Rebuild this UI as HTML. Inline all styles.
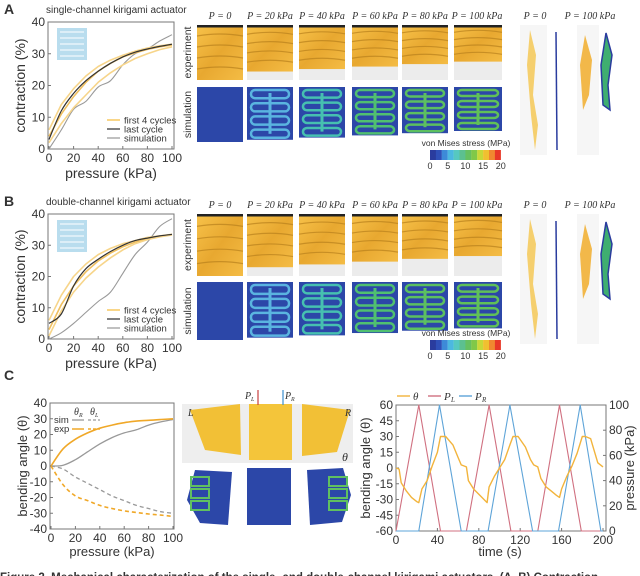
<!DOCTYPE html>
<html><head><meta charset="utf-8"><style>
body{margin:0;background:#fff;width:640px;height:576px;overflow:hidden;font-family:"Liberation Sans",sans-serif}
svg{display:block}
text{font-family:"Liberation Sans",sans-serif;fill:#333}
.ser{font-family:"Liberation Serif",serif;font-style:italic}
</style></head><body>
<svg id="fig" width="640" height="576" viewBox="0 0 640 576">
<defs>
<linearGradient id="yel" x1="0" y1="0" x2="1" y2="1"><stop offset="0" stop-color="#f7c24a"/><stop offset="0.5" stop-color="#e8a830"/><stop offset="1" stop-color="#f4bc45"/></linearGradient>
</defs>
<g id="static"></g>
<g id="charts"></g>
</svg>
<script>
// ---- Panel A data ----
const pA = [0,10,20,30,40,50,60,70,80,90,100];
const aFirstHi = [6,14,19,23,26,28,29.5,30.8,31.8,32.5,33];
const aFirstMid = [4,11,16.5,21,24.5,27,29,30.3,31.4,32.2,32.8];
const aFirstLo = [2,8,13,17,21,24,26.5,28.5,30,31.3,32.2];
const aLast = [3,12,17.5,21.5,24.5,27,29,30.5,31.5,32.3,33];
const aSim = [0,6,12.5,15,19.5,21.5,26.5,30,31.5,34,36];
// ---- Panel B data ----
const bFirstHi = [6,14,20,24,27,29,30.5,31.5,32.5,33,33.5];
const bFirstMid = [3,11,17,21.5,25,27.5,29.5,31,32,32.8,33.4];
const bFirstLo = [1,9,15,19.5,23,26,28.5,30.5,31.8,32.7,33.3];
const bLast = [5,8,17,22.5,25.5,28,30,31.5,32.3,33,33.5];
const bSim = [0,2,5,8.5,12,15,21,27,31,36,38.5];
// ---- Panel C left data ----
const cSimR = [0,0.5,4,9,14,18,21,23,26,28,29.5];
const cExpR = [0,11,17,21,24,26,27.5,28.5,29,29.5,30];
const cSimL = [0,-2,-7,-11,-15,-19,-22,-25,-27,-29,-30];
const cExpL = [0,-12,-19,-22,-25,-27,-28.5,-29.5,-30.5,-31.2,-32];
const contrTicks = [0,10,20,30,40];
const pTicks = [0,20,40,60,80,100];
const angTicks = [-40,-30,-20,-10,0,10,20,30,40];
// ---- Panel C right data ----
const tTheta = [0,3,5,10,15,20,22,25,30,35,40,43,48,55,60,63,68,70,75,80,85,88,90,95,100,105,110,113,118,125,130,133,137,140,145,150,155,158,160,165,170,175,180,183,188,195,200];
const theta = [0,-1,-14,-22,-28,-32,-33,-20,-12,2,15,30,30,22,10,3,1,-12,-20,-25,-30,-33,-18,-8,0,8,22,30,30,20,8,3,1,-10,-18,-22,-26,-28,-20,-8,2,14,30,30,28,5,1];
const tPL = [0,22,43,68,90,111,137,158,179,200];
const vPL = [0,100,0,0,100,0,0,100,0,0];
const tPR = [0,22,42,63,89,110,132,157,178,198,200];
const vPR = [0,0,100,0,0,100,0,0,100,0,0];
const timeTicks = [0,40,80,120,160,200];
const thetaTicks = [-60,-45,-30,-15,0,15,30,45,60];
const presTicks = [0,20,40,60,80,100];

const NS='http://www.w3.org/2000/svg';
const charts=document.getElementById('charts');
const st=document.getElementById('static');
function mk(tag,attrs,parent){const e=document.createElementNS(NS,tag);for(const k in attrs)e.setAttribute(k,attrs[k]);(parent||charts).appendChild(e);return e;}
function txt(x,y,s,attrs,parent){const e=mk('text',Object.assign({x:x,y:y},attrs||{}),parent);e.textContent=s;return e;}
function scale(d0,d1,r0,r1){return v=>r0+(v-d0)/(d1-d0)*(r1-r0);}
function path(xs,ys,sx,sy){return xs.map((x,i)=>(i?'L':'M')+sx(x).toFixed(1)+' '+sy(ys[i]).toFixed(1)).join(' ');}
function smooth(xs,ys,sx,sy){const P=xs.map((x,i)=>[sx(x),sy(ys[i])]);let d='M'+P[0][0].toFixed(1)+' '+P[0][1].toFixed(1);for(let i=0;i<P.length-1;i++){const p0=P[i-1]||P[i],p1=P[i],p2=P[i+1],p3=P[i+2]||p2;const c1=[p1[0]+(p2[0]-p0[0])/6,p1[1]+(p2[1]-p0[1])/6],c2=[p2[0]-(p3[0]-p1[0])/6,p2[1]-(p3[1]-p1[1])/6];d+=' C'+c1.map(v=>v.toFixed(1)).join(' ')+' '+c2.map(v=>v.toFixed(1)).join(' ')+' '+p2[0].toFixed(1)+' '+p2[1].toFixed(1);}return d;}

function frame(x0,y0,x1,y1,name){const r=mk('rect',{x:x0,y:y0,width:x1-x0,height:y1-y0,fill:'none',stroke:'#777','stroke-width':1});

}
function xTicks(ticks,sx,yb,name){ticks.forEach(t=>{mk('line',{x1:sx(t),x2:sx(t),y1:yb,y2:yb-3,stroke:'#777'});const e=txt(sx(t),yb+13,String(t),{'font-size':12,'text-anchor':'middle'});

});}
function yTicks(ticks,sy,xl,name,right){ticks.forEach(t=>{mk('line',{x1:xl,x2:right?xl-3:xl+3,y1:sy(t),y2:sy(t),stroke:'#777'});const e=txt(right?xl+3:xl-3,sy(t)+4,String(t),{'font-size':12,'text-anchor':right?'start':'end'});

});}
function line(xs,ys,sx,sy,color,w,name,dash,sm){const e=mk('path',{d:sm?smooth(xs,ys,sx,sy):path(xs,ys,sx,sy),fill:'none',stroke:color,'stroke-width':w,'stroke-dasharray':dash||'none','stroke-linejoin':'round'});

}

function contraction(y0,y1,first,last,sim,tag,title,letter){
 const sx=scale(0,100,49,172),sy=scale(0,40,y1,y0);
 const L=txt(4,y0-8,letter,{'font-size':14,'font-weight':'bold',fill:'#111'});
 
 
 const T=txt(46,y0-9,title,{'font-size':10});
 
 
 frame(48,y0,174,y1,'plot-area-'+tag);
 xTicks(pTicks,sx,y1,'x-tick-'+tag);
 yTicks(contrTicks,sy,48,'y-tick-'+tag);
 const xt=txt(111,y1+29,'pressure (kPa)',{'font-size':14,'text-anchor':'middle'});
 
 
 const yt=txt(0,0,'contraction (%)',{'font-size':14,'text-anchor':'middle',transform:'translate(25,'+((y0+y1)/2)+') rotate(-90)'});
 
 
 const ins=mk('rect',{x:57,y:y0+6,width:30,height:32,fill:'#a8d4ea',opacity:0.8});
 
 
 for(let i=0;i<5;i++)mk('line',{x1:60,x2:84,y1:y0+10+i*6,y2:y0+10+i*6,stroke:'#e8f4fa','stroke-width':1.5});
 line(pA,sim,sx,sy,'#999',1.1,'simulation-curve-'+tag,null,true);
 [first[0],first[1],first[2]].forEach((s,i)=>line(pA,s,sx,sy,i==1?'#f0c060':'#f7d58a',1.6,'first-cycle-curve-'+tag));
 line(pA,last,sx,sy,'#333',1.2,'last-cycle-curve-'+tag,null,true);
 const items=[['first 4 cycles','#f7c860'],['last cycle','#555'],['simulation','#aaa']];
 items.forEach((it,i)=>{const yy=y1-29+i*9;mk('line',{x1:107,x2:120,y1:yy,y2:yy,stroke:it[1],'stroke-width':1.5});const e=txt(124,yy+3.5,it[0],{'font-size':9.5});
 
 });
}
contraction(22,149,[aFirstHi,aFirstMid,aFirstLo],aLast,aSim,'a','single-channel kirigami actuator','A');
contraction(214,339,[bFirstHi,bFirstMid,bFirstLo],bLast,bSim,'b','double-channel kirigami actuator','B');

(function(){
 const sx=scale(0,100,51,173),sy=scale(-40,40,529,403);
 const L=txt(4,380,'C',{'font-size':14,'font-weight':'bold',fill:'#111'});
 
 
 frame(50,403,174,529,'plot-area-c-left');
 xTicks(pTicks,sx,529,'x-tick-c-left');
 yTicks(angTicks,sy,50,'y-tick-c-left');
 const xt=txt(112,556,'pressure (kPa)',{'font-size':13,'text-anchor':'middle'});
 
 
 const yt=txt(0,0,'bending angle (θ)',{'font-size':13,'text-anchor':'middle',transform:'translate(27,466) rotate(-90)'});
 
 
 line(pA,cSimR,sx,sy,'#999',1.3,'sim-theta-r',null,true);
 line(pA,cExpR,sx,sy,'#f0a828',1.6,'exp-theta-r',null,true);
 line(pA,cSimL,sx,sy,'#999',1.3,'sim-theta-l','4 3',true);
 line(pA,cExpL,sx,sy,'#f0a828',1.6,'exp-theta-l','4 3',true);
 txt(74,415,'θ',{'font-size':10,class:'ser'});txt(79,417,'R',{'font-size':6,class:'ser'});
 txt(90,415,'θ',{'font-size':10,class:'ser'});txt(95,417,'L',{'font-size':6,class:'ser'});
 const s=txt(54,423,'sim',{'font-size':9.5});
 
 
 const e=txt(54,432,'exp',{'font-size':9.5});
 
 
 mk('line',{x1:72,x2:84,y1:420,y2:420,stroke:'#999','stroke-width':1.3});
 mk('line',{x1:88,x2:100,y1:420,y2:420,stroke:'#999','stroke-width':1.3,'stroke-dasharray':'3 2'});
 mk('line',{x1:72,x2:84,y1:429,y2:429,stroke:'#f0a828','stroke-width':1.5});
 mk('line',{x1:88,x2:100,y1:429,y2:429,stroke:'#f0a828','stroke-width':1.5,'stroke-dasharray':'3 2'});
})();

(function(){
 const sx=scale(0,200,396,603),sy=scale(-60,60,531,405),sp=scale(0,100,531,405);
 frame(396,405,606,531,'plot-area-c-right');
 xTicks(timeTicks,sx,531,'x-tick-time');
 yTicks(thetaTicks,sy,396,'y-tick-theta');
 yTicks(presTicks,sp,606,'y-tick-pressure',true);
 const xt=txt(500,556,'time (s)',{'font-size':13,'text-anchor':'middle'});
 
 
 const yt=txt(0,0,'bending angle (θ)',{'font-size':13,'text-anchor':'middle',transform:'translate(370,468) rotate(-90)'});
 
 
 const yr=txt(0,0,'pressure (kPa)',{'font-size':13,'text-anchor':'middle',transform:'translate(634,468) rotate(-90)'});
 
 
 line(tPL,vPL,sx,sp,'#d07080',1.1,'pl-series');
 line(tPR,vPR,sx,sp,'#5ea4d8',1.1,'pr-series');
 line(tTheta,theta,sx,sy,'#f2b43c',1.4,'theta-series');
 const lg=[['θ','#f2b43c',''],['P','#d07080','L'],['P','#5ea4d8','R']];
 lg.forEach((it,i)=>{const x=397+i*31;mk('line',{x1:x,x2:x+13,y1:396,y2:396,stroke:it[1],'stroke-width':1.4});const e=txt(x+16,400,it[0],{'font-size':11,class:'ser'});
 
 
 if(it[2])txt(x+23,402,it[2],{'font-size':7,class:'ser'});});
})();

const tileX=[197,247,299,352,402,454];
const pLabels=['P = 0','P = 20 kPa','P = 40 kPa','P = 60 kPa','P = 80 kPa','P = 100 kPa'];
const cbColors=['#2a3c9e','#2f50b8','#3d8ad8','#4cb8e0','#56c8c0','#5cc090','#66c060','#80c848','#c8d838','#f0c030','#f08830','#e83828'];
function tiles(yl,ye0,ye1,ys0,ys1,tag,cby){
 const lab1=txt(0,0,'experiment',{'font-size':10.5,'text-anchor':'middle',transform:'translate(191,'+((ye0+ye1)/2)+') rotate(-90)'},st);
 
 
 const lab2=txt(0,0,'simulation',{'font-size':10.5,'text-anchor':'middle',transform:'translate(191,'+((ys0+ys1)/2)+') rotate(-90)'},st);
 
 
 tileX.forEach((x,i)=>{
  const pl=txt(x+23,yl,pLabels[i],{'font-size':10,'text-anchor':'middle',class:'ser'},st);
  
  
  const w=i==5?48:46;
  mk('rect',{x:x,y:ye0,width:w,height:ye1-ye0,fill:'#ececec'},st);
  const h=(ye1-ye0)*(1-i*0.045)-(i?6:0);
  const ex=mk('rect',{x:x,y:ye0,width:w,height:h,fill:'url(#yel)'},st);
  
  
  mk('rect',{x:x,y:ye0,width:w,height:2.5,fill:'#222'},st);
  for(let k=1;k<5;k++)mk('path',{d:'M'+x+' '+(ye0+k*h/5)+' Q'+(x+w/2)+' '+(ye0+k*h/5-4)+' '+(x+w)+' '+(ye0+k*h/5),stroke:'#b8801c','stroke-width':1.2,fill:'none',opacity:0.7},st);
  const sh=(ys1-ys0)*(1-i*0.04);
  const sm=mk('rect',{x:x,y:ys0,width:w,height:sh,fill:'#2c47a8'},st);
  
  
  if(i>0){const col=['#5ab4e0','#46c0b0','#50c070','#5cc060','#60c058'][i-1];
   for(let k=0;k<4;k++)mk('rect',{x:x+4,y:ys0+3+k*sh/4,width:w-8,height:sh/4-5,rx:4,fill:'none',stroke:col,'stroke-width':2.5},st);
   mk('line',{x1:x+w/2,x2:x+w/2,y1:ys0+6,y2:ys0+sh-6,stroke:col,'stroke-width':3},st);}
 });
 const cbt=txt(466,cby-4,'von Mises stress (MPa)',{'font-size':8.5,'text-anchor':'middle'},st);
 
 
 cbColors.forEach((c,i)=>{const r=mk('rect',{x:430+i*5.9,y:cby,width:6,height:10,fill:c},st);
 
 });
 [0,5,10,15,20].forEach((v,i)=>{txt(430+i*17.7,cby+19,String(v),{'font-size':9,'text-anchor':'middle'},st);});
 txt(535,yl,'P = 0',{'font-size':10,'text-anchor':'middle',class:'ser'},st);
 txt(590,yl,'P = 100 kPa',{'font-size':10,'text-anchor':'middle',class:'ser'},st);
 mk('rect',{x:520,y:ye0,width:27,height:130,fill:'#f6f6f6'},st);
 mk('rect',{x:577,y:ye0,width:22,height:130,fill:'#f6f6f6'},st);
 const s1=mk('path',{d:'M530 '+(ye0+5)+' L536 '+(ye0+30)+' L533 '+(ye0+70)+' L538 '+(ye0+100)+' L535 '+(ye0+125)+' L531 '+(ye0+90)+' L527 '+(ye0+40)+'Z',fill:'#f5cf6e'},st);
 
 
 mk('line',{x1:556,x2:557,y1:ye0+7,y2:ye0+125,stroke:'#2a3c9e','stroke-width':1.5},st);
 const s2=mk('path',{d:'M585 '+(ye0+10)+' L592 '+(ye0+35)+' L589 '+(ye0+70)+' L583 '+(ye0+85)+' L580 '+(ye0+40)+'Z',fill:'#f2b84a'},st);
 
 
 mk('path',{d:'M606 '+(ye0+8)+' L612 '+(ye0+30)+' L608 '+(ye0+60)+' L610 '+(ye0+85)+' L603 '+(ye0+80)+' L601 '+(ye0+40)+'Z',fill:'#3fae70',stroke:'#2a3c9e','stroke-width':1.5},st);
}
tiles(19,25,80,87,142,'a',150);
tiles(208,214,276,282,340,'b',340);

(function(){
 const pho=mk('rect',{x:182,y:404,width:171,height:59,fill:'#eeeeee'},st);
 
 
 mk('path',{d:'M190 410 L240 404 L241 455 L205 450 Z',fill:'#f2c036'},st);
 mk('rect',{x:249,y:404,width:43,height:56,fill:'#f4c53a'},st);
 mk('path',{d:'M302 404 L350 410 L337 452 L302 456 Z',fill:'#f2c036'},st);
 txt(188,416,'L',{'font-size':10,class:'ser',fill:'#222'},st);
 txt(345,416,'R',{'font-size':10,class:'ser',fill:'#222'},st);
 txt(342,461,'θ',{'font-size':12,class:'ser',fill:'#222'},st);
 mk('line',{x1:258,x2:258,y1:390,y2:405,stroke:'#c84040','stroke-width':1.2},st);
 mk('line',{x1:283,x2:283,y1:390,y2:405,stroke:'#3a90d0','stroke-width':1.2},st);
 txt(245,399,'P',{'font-size':10,class:'ser',fill:'#c84040'},st);txt(251,401,'L',{'font-size':6,class:'ser',fill:'#c84040'},st);
 txt(285,399,'P',{'font-size':10,class:'ser',fill:'#3a90d0'},st);txt(291,401,'R',{'font-size':6,class:'ser',fill:'#3a90d0'},st);
 const sm=mk('rect',{x:247,y:468,width:44,height:57,fill:'#2c47a8'},st);
 
 
 mk('path',{d:'M187 500 L195 470 L232 472 L228 525 L200 523 Z',fill:'#2c47a8'},st);
 mk('path',{d:'M307 470 L343 468 L351 495 L342 522 L310 525 Z',fill:'#2c47a8'},st);
 for(let k=0;k<3;k++){mk('rect',{x:191,y:477+k*12,width:18,height:9,fill:'none',stroke:'#60c060','stroke-width':2},st);
  mk('rect',{x:329,y:477+k*12,width:18,height:9,fill:'none',stroke:'#60c060','stroke-width':2},st);}
})();

const cap=txt(0,581,'Figure 2. Mechanical characterization of the single- and double-channel kirigami actuators. (A, B) Contraction ...',{'font-size':11.5,'font-weight':'bold',fill:'#555'},st);


</script>
</body></html>
